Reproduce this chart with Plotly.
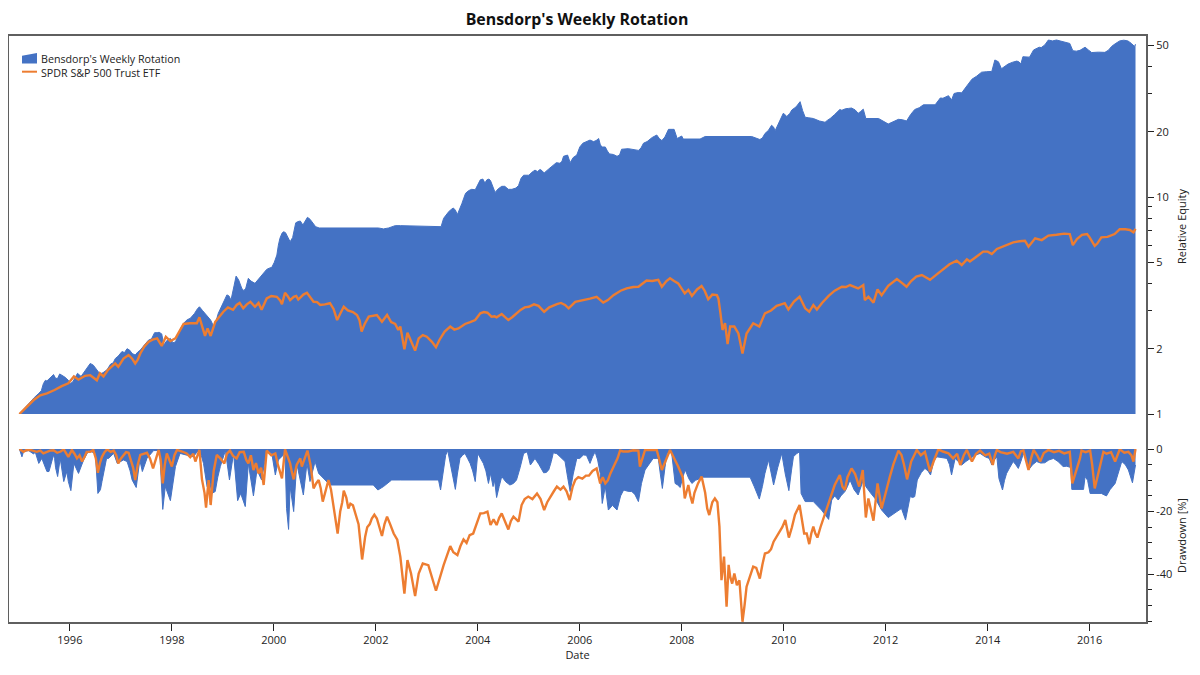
import pandas as pd
from plotly.subplots import make_subplots
import plotly.graph_objects as go

# Values, dates given as decimal years
strategy_years = [
    1995.01, 1995.22, 1995.39, 1995.48, 1995.55, 1995.68, 1995.76, 1995.84, 1995.97, 1996.06, 1996.15, 1996.22,
    1996.40, 1996.53, 1996.59, 1996.73, 1996.89, 1997.02, 1997.12, 1997.22, 1997.28, 1997.38, 1997.54, 1997.71,
    1997.80, 1997.84, 1997.97, 1998.07, 1998.23, 1998.36, 1998.54, 1998.65, 1998.76, 1998.82, 1998.91, 1999.08,
    1999.16, 1999.26, 1999.37, 1999.45, 1999.50, 1999.63, 1999.72, 1999.86, 1999.96, 2000.06, 2000.12, 2000.19,
    2000.27, 2000.32, 2000.37, 2000.43, 2000.52, 2000.57, 2000.66, 2000.76, 2000.89, 2002.05, 2002.15, 2002.25,
    2002.38, 2002.48, 2003.28, 2003.33, 2003.42, 2003.52, 2003.60, 2003.69, 2003.76, 2003.88, 2003.95, 2004.05,
    2004.18, 2004.25, 2004.34, 2004.47, 2004.60, 2004.67, 2004.80, 2004.90, 2005.00, 2005.12, 2005.22, 2005.30,
    2005.48, 2005.61, 2005.68, 2005.76, 2005.81, 2005.94, 2006.06, 2006.20, 2006.37, 2006.43, 2006.50, 2006.58,
    2006.73, 2006.82, 2007.15, 2007.25, 2007.51, 2007.61, 2007.74, 2007.85, 2007.91, 2008.00, 2008.03, 2008.36,
    2008.46, 2009.37, 2009.53, 2009.63, 2009.76, 2009.83, 2009.99, 2010.06, 2010.16, 2010.31, 2010.32, 2010.42,
    2010.58, 2010.81, 2010.91, 2011.10, 2011.14, 2011.27, 2011.40, 2011.46, 2011.56, 2011.61, 2011.86, 2012.05,
    2012.25, 2012.41, 2012.57, 2012.74, 2012.97, 2013.07, 2013.23, 2013.29, 2013.34, 2013.49, 2013.69, 2013.88,
    2014.08, 2014.14, 2014.21, 2014.27, 2014.40, 2014.57, 2014.65, 2014.69, 2014.82, 2014.90, 2015.12, 2015.19,
    2015.35, 2015.61, 2015.67, 2015.81, 2015.91, 2016.04, 2016.30, 2016.43, 2016.59, 2016.75, 2016.88, 2016.90,
]
strategy_equity = [
    1.0, 1.14, 1.245, 1.38, 1.42, 1.52, 1.46, 1.51, 1.43, 1.41, 1.54, 1.49,
    1.71, 1.60, 1.53, 1.60, 1.80, 1.94, 2.0, 1.90, 1.87, 1.97, 2.19, 2.37,
    2.34, 2.08, 2.23, 2.15, 2.62, 2.76, 3.12, 2.91, 2.71, 2.53, 2.91, 3.54,
    3.35, 4.32, 3.80, 3.80, 4.22, 4.00, 4.22, 4.64, 4.74, 5.40, 6.45, 6.92,
    6.57, 6.22, 6.51, 7.6, 7.75, 7.43, 8.06, 7.6, 7.2, 7.2, 7.13, 7.2,
    7.38, 7.38, 7.3, 7.98, 8.5, 8.9, 8.3, 9.35, 10.4, 10.85, 10.8, 12.0,
    12.0, 11.9, 10.5, 11.2, 10.85, 10.85, 11.3, 12.6, 12.6, 13.3, 13.4, 12.9,
    14.0, 14.3, 15.4, 15.6, 14.4, 15.6, 17.7, 18.3, 18.6, 17.0, 17.0, 15.8,
    15.4, 16.6, 16.4, 17.7, 19.3, 18.2, 20.5, 20.5, 18.6, 19.1, 18.5, 18.5,
    19.0, 19.0, 18.4, 19.6, 21.4, 20.2, 24.3, 23.5, 25.2, 27.4, 27.5, 23.3,
    23.0, 22.1, 23.0, 25.3, 25.1, 25.6, 25.2, 24.3, 25.4, 23.0, 23.0, 21.7,
    22.8, 22.4, 25.3, 26.6, 26.6, 28.6, 29.3, 28.0, 30.0, 30.2, 34.9, 37.6,
    37.9, 42.8, 42.0, 39.0, 41.0, 42.3, 41.0, 44.3, 44.1, 47.6, 50.2, 52.9,
    52.9, 51.0, 47.2, 47.4, 49.0, 46.3, 46.4, 49.4, 52.4, 52.4, 49.4, 50.6,
]

# second pass of readings between the turning points above
strategy_extra_years = [
    1995.12, 1995.30, 1995.44, 1995.52, 1995.60, 1995.72, 1995.80, 1995.90, 1996.01, 1996.10, 1996.30, 1996.36,
    1996.46, 1996.65, 1996.80, 1996.85, 1996.95, 1997.07, 1997.17, 1997.33, 1997.46, 1997.60, 1997.66, 1997.75,
    1997.90, 1998.02, 1998.12, 1998.18, 1998.30, 1998.44, 1998.50, 1998.60, 1998.70, 1998.87, 1999.00, 1999.12,
    1999.22, 1999.31, 1999.41, 1999.55, 1999.67, 1999.78, 1999.91, 2000.01, 2000.09, 2000.16, 2000.23, 2000.47,
    2000.61, 2000.71, 2000.82, 2003.46, 2003.56, 2003.65, 2003.72, 2003.82, 2004.00, 2004.10, 2004.14, 2004.22,
    2004.30, 2004.40, 2004.53, 2004.75, 2004.85, 2005.06, 2005.17, 2005.26, 2005.38, 2005.54, 2005.65, 2005.72,
    2005.87, 2006.00, 2006.13, 2006.27, 2006.32, 2006.40, 2006.54, 2006.66, 2006.78, 2006.95, 2007.05, 2007.20,
    2007.32, 2007.42, 2007.56, 2007.67, 2009.58, 2009.70, 2009.80, 2009.90, 2010.02, 2010.12, 2010.24, 2010.37,
    2010.48, 2010.70, 2010.86, 2011.00, 2011.21, 2011.33, 2011.51, 2012.15, 2012.33, 2012.49, 2012.66, 2013.12,
    2013.18, 2013.42, 2013.59, 2013.78, 2013.98, 2014.33, 2014.49, 2014.61, 2014.76, 2015.01, 2015.05, 2015.27,
    2015.48, 2015.74, 2015.98, 2016.17, 2016.37, 2016.50, 2016.67, 2016.82,
]
strategy_extra_equity = [
    1.07, 1.19, 1.28, 1.43, 1.46, 1.46, 1.53, 1.48, 1.38, 1.47, 1.58, 1.66,
    1.68, 1.55, 1.70, 1.72, 1.85, 1.92, 1.97, 1.93, 2.08, 2.22, 2.37, 2.38,
    2.18, 2.13, 2.3, 2.5, 2.72, 2.9, 3.05, 3.0, 2.8, 2.7, 3.2, 3.5,
    3.9, 4.15, 3.7, 4.1, 4.1, 4.4, 4.7, 5.0, 6.0, 6.8, 6.85, 7.7,
    7.7, 7.9, 7.3, 8.7, 8.7, 8.8, 9.8, 10.7, 11.4, 12.1, 11.6, 12.1,
    11.0, 10.9, 11.2, 11.0, 12.2, 13.0, 13.1, 13.2, 13.4, 14.4, 14.6, 15.5,
    15.2, 17.0, 18.0, 18.0, 18.2, 17.5, 16.3, 15.7, 15.6, 16.7, 16.5, 16.8,
    18.0, 18.8, 18.6, 18.9, 18.7, 20.3, 21.0, 22.0, 24.0, 24.3, 26.0, 25.0,
    23.2, 22.4, 22.6, 24.0, 25.5, 25.7, 24.8, 22.2, 22.7, 24.0, 25.8, 28.5,
    29.0, 30.3, 32.5, 36.0, 37.8, 40.0, 41.8, 42.0, 44.0, 49.0, 48.8, 52.4,
    52.0, 47.0, 47.5, 46.5, 47.5, 50.8, 52.8, 51.0,
]

spy_years = [
    1995.01, 1995.29, 1995.55, 1995.84, 1995.97, 1996.08, 1996.17, 1996.40, 1996.53, 1996.59, 1996.66, 1996.89,
    1996.95, 1997.15, 1997.28, 1997.38, 1997.54, 1997.71, 1997.80, 1997.88, 1997.97, 1998.07, 1998.23, 1998.49,
    1998.54, 1998.65, 1998.70, 1998.76, 1998.85, 1999.01, 1999.27, 1999.40, 1999.54, 1999.63, 1999.76, 1999.86,
    2000.06, 2000.16, 2000.22, 2000.32, 2000.39, 2000.48, 2000.65, 2000.78, 2000.91, 2001.10, 2001.24, 2001.37,
    2001.63, 2001.72, 2001.86, 2002.02, 2002.12, 2002.22, 2002.44, 2002.48, 2002.56, 2002.62, 2002.77, 2002.84,
    2002.92, 2003.00, 2003.18, 2003.46, 2003.62, 2003.95, 2004.05, 2004.19, 2004.27, 2004.37, 2004.47, 2004.60,
    2004.76, 2004.84, 2005.00, 2005.19, 2005.30, 2005.55, 2005.71, 2005.78, 2005.91, 2006.33, 2006.46, 2006.66,
    2006.92, 2007.15, 2007.31, 2007.54, 2007.61, 2007.77, 2007.93, 2008.06, 2008.13, 2008.20, 2008.39, 2008.52,
    2008.69, 2008.76, 2008.80, 2008.85, 2008.90, 2008.95, 2009.03, 2009.11, 2009.19, 2009.27, 2009.40, 2009.52,
    2009.63, 2009.86, 2010.02, 2010.09, 2010.31, 2010.42, 2010.50, 2010.58, 2010.65, 2010.88, 2011.14, 2011.30,
    2011.46, 2011.56, 2011.59, 2011.66, 2011.76, 2011.84, 2011.92, 2012.22, 2012.41, 2012.71, 2012.87, 2013.16,
    2013.39, 2013.49, 2013.59, 2013.65, 2013.91, 2014.08, 2014.18, 2014.50, 2014.73, 2014.80, 2014.93, 2015.06,
    2015.19, 2015.61, 2015.67, 2015.85, 2016.00, 2016.10, 2016.23, 2016.49, 2016.59, 2016.79, 2016.86, 2016.90,
]
spy_equity = [
    1.0, 1.16, 1.245, 1.345, 1.385, 1.49, 1.44, 1.51, 1.43, 1.54, 1.49, 1.71,
    1.65, 1.87, 1.71, 1.90, 2.15, 2.23, 2.06, 2.27, 2.17, 2.23, 2.60, 2.62,
    2.79, 2.29, 2.48, 2.29, 2.66, 2.96, 3.18, 3.07, 3.29, 3.12, 3.02, 3.41,
    3.47, 3.21, 3.62, 3.35, 3.47, 3.37, 3.62, 3.29, 3.18, 3.24, 2.71, 3.12,
    2.86, 2.40, 2.81, 2.86, 2.66, 2.86, 2.44, 2.53, 1.99, 2.37, 1.96, 2.23,
    2.31, 2.27, 2.03, 2.53, 2.48, 2.71, 2.91, 2.93, 2.81, 2.79, 2.89, 2.71,
    2.91, 3.02, 3.12, 3.15, 2.96, 3.21, 3.18, 3.07, 3.29, 3.47, 3.26, 3.53,
    3.79, 3.86, 4.12, 4.15, 3.86, 4.22, 4.0, 3.6, 3.73, 3.5, 3.89, 3.38,
    3.53, 2.91, 2.44, 2.62, 2.10, 2.53, 2.53, 2.35, 1.90, 2.35, 2.62, 2.53,
    2.91, 3.15, 3.24, 3.03, 3.47, 3.07, 2.96, 3.18, 3.03, 3.5, 3.86, 3.93,
    3.79, 3.93, 3.35, 3.47, 3.26, 3.75, 3.53, 4.19, 3.86, 4.37, 4.15, 4.69,
    5.09, 4.86, 5.16, 5.04, 5.6, 5.46, 5.76, 6.18, 6.29, 5.9, 6.45, 6.33,
    6.64, 6.75, 6.0, 6.69, 6.52, 5.95, 6.52, 6.75, 7.1, 7.05, 6.87, 7.13,
]

spy_extra_years = [
    1995.42, 1995.70, 1996.30, 1996.75, 1997.05, 1997.22, 1997.33, 1997.46, 1997.62, 1998.15, 1998.35, 1998.60,
    1998.95, 1999.10, 1999.20, 1999.33, 1999.47, 1999.70, 1999.95, 2000.12, 2000.27, 2000.44, 2000.58, 2000.72,
    2000.85, 2001.00, 2001.17, 2001.30, 2001.45, 2001.55, 2001.68, 2001.78, 2001.95, 2002.30, 2002.38, 2003.10,
    2003.25, 2003.35, 2003.54, 2003.75, 2003.85, 2004.12, 2004.33, 2004.55, 2004.68, 2004.92, 2005.10, 2005.40,
    2005.63, 2006.10, 2006.20, 2006.55, 2006.80, 2007.05, 2007.42, 2007.70, 2007.85, 2008.30, 2008.45, 2008.60,
    2008.72, 2009.35, 2009.75, 2009.95, 2010.20, 2010.75, 2011.00, 2011.22, 2011.38, 2012.05, 2012.14, 2012.33,
    2012.50, 2012.60, 2013.00, 2013.25, 2013.75, 2014.00, 2014.30, 2014.40, 2014.62, 2015.35, 2015.50, 2015.75,
    2015.95, 2016.15, 2016.35, 2016.70,
]
spy_extra_equity = [
    1.22, 1.29, 1.5, 1.6, 1.8, 1.8, 1.78, 2.05, 2.2, 2.4, 2.62, 2.5,
    2.85, 3.1, 3.02, 3.25, 3.2, 3.25, 3.5, 3.35, 3.5, 3.5, 3.55, 3.45,
    3.28, 3.2, 3.05, 2.9, 3.0, 2.95, 2.7, 2.6, 2.85, 2.65, 2.6, 2.15,
    2.2, 2.4, 2.45, 2.6, 2.65, 2.95, 2.82, 2.78, 2.8, 3.1, 3.2, 3.1,
    3.25, 3.35, 3.4, 3.35, 3.7, 3.85, 4.1, 4.1, 4.1, 3.75, 3.7, 3.55,
    3.4, 2.5, 3.0, 3.2, 3.3, 3.25, 3.7, 3.85, 3.85, 3.9, 4.05, 4.0,
    4.1, 4.3, 4.4, 4.9, 5.25, 5.6, 5.9, 6.05, 6.25, 6.7, 6.78, 6.4,
    6.75, 6.1, 6.55, 7.1,
]

strategy_dd_years = [
    1995.01, 1995.06, 1995.09, 1995.19, 1995.29, 1995.32, 1995.39, 1995.45, 1995.55, 1995.59, 1995.68, 1995.76,
    1995.81, 1995.88, 1995.94, 1995.97, 1996.02, 1996.08, 1996.17, 1996.27, 1996.37, 1996.50, 1996.55, 1996.63,
    1996.76, 1996.86, 1996.93, 1997.05, 1997.22, 1997.30, 1997.37, 1997.42, 1997.51, 1997.64, 1997.76, 1997.82,
    1997.87, 1997.97, 1998.07, 1998.16, 1998.42, 1998.54, 1998.62, 1998.69, 1998.78, 1998.85, 1998.95, 1999.05,
    1999.13, 1999.21, 1999.29, 1999.35, 1999.44, 1999.50, 1999.60, 1999.67, 1999.76, 1999.86, 1999.96, 2000.03,
    2000.09, 2000.22, 2000.25, 2000.29, 2000.32, 2000.39, 2000.45, 2000.58, 2000.65, 2000.71, 2000.81, 2000.88,
    2001.10, 2001.95, 2002.04, 2002.15, 2002.31, 2002.48, 2003.23, 2003.27, 2003.33, 2003.41, 2003.49, 2003.56,
    2003.65, 2003.75, 2003.85, 2003.95, 2004.00, 2004.11, 2004.21, 2004.25, 2004.37, 2004.47, 2004.63, 2004.76,
    2004.90, 2004.97, 2005.03, 2005.12, 2005.29, 2005.39, 2005.48, 2005.61, 2005.71, 2005.81, 2005.94, 2006.07,
    2006.20, 2006.30, 2006.40, 2006.44, 2006.50, 2006.56, 2006.73, 2006.86, 2007.02, 2007.15, 2007.28, 2007.44,
    2007.54, 2007.62, 2007.71, 2007.80, 2007.87, 2007.97, 2008.07, 2008.20, 2008.43, 2009.34, 2009.52, 2009.63,
    2009.70, 2009.80, 2009.96, 2010.10, 2010.19, 2010.31, 2010.34, 2010.42, 2010.58, 2010.74, 2010.88, 2010.94,
    2011.07, 2011.20, 2011.30, 2011.46, 2011.56, 2011.61, 2011.92, 2012.05, 2012.22, 2012.31, 2012.39, 2012.48,
    2012.57, 2012.62, 2012.77, 2012.88, 2013.00, 2013.20, 2013.29, 2013.36, 2013.49, 2013.65, 2013.85, 2014.08,
    2014.18, 2014.22, 2014.29, 2014.37, 2014.50, 2014.60, 2014.70, 2014.80, 2014.96, 2015.12, 2015.29, 2015.48,
    2015.63, 2015.65, 2015.88, 2015.91, 2016.01, 2016.23, 2016.33, 2016.50, 2016.63, 2016.76, 2016.84, 2016.90,
]
strategy_dd = [
    0, -2.5, -0.9, -0.5, -1.6, -0.9, -4.6, -3, -7.2, -7.2, -1.9, -8.8,
    -3, -10.4, -7.2, -10.4, -13.3, -4.6, -7.8, -3.5, -0.5, -1.4, -14.2, -10.4,
    -3, -1.4, -4.6, -3.5, -9.9, -12.3, -3.5, -7.2, -3, -0.5, -0.5, -19.3,
    -12, -16.5, -5.6, -1.4, -2.5, 0, -4.6, -12, -14.2, -13.6, -5.6, -0.5,
    -9.9, -1.4, -16.5, -14.2, -18.4, -4.6, -15, -6.7, -9.9, -0.5, -1.4, -8.3,
    -3.5, -1.4, -19, -25.7, -12, -20, -4.6, -14.7, -4.6, -10.4, -4, -7.8,
    -11.5, -11.5, -13.1, -12, -9.9, -9.9, -9.9, -13.1, -5.6, -0.5, -7.3, -12.9,
    -3, -1.4, -4.6, -10.4, -1.4, -4.6, -11, -7.8, -15.5, -8.8, -11.5, -9.9,
    -1.4, -0.9, -5.1, -3, -7.6, -6.7, -1.2, -2.5, -4, -13.6, -3, -1.9,
    -4.6, -0.9, -7.8, -17.4, -12, -19.5, -19.5, -13.1, -13.6, -16.8, -6.7, -3,
    -3, -12.6, -1.4, -0.9, -11, -12.3, -6.7, -11, -9, -9, -16, -7.8,
    -3.5, -11.5, -1.4, -13.3, -2.5, -0.9, -14.2, -16.8, -16.8, -19.5, -22.5, -16.3,
    -16.3, -13.6, -9.9, -14.7, -9.9, -12, -19.5, -21.9, -20, -19, -22.7, -15.2,
    -15.2, -9.9, -6.2, -8.3, -2.5, -3, -8.3, -3, -5.1, -3, -1.4, -5.1,
    -2.5, -9.4, -13.1, -7.8, -4, -6.2, -1.4, -6.7, -4, -4.4, -3, -5.6,
    -5.9, -12.9, -12.9, -8.8, -14.2, -14.2, -15, -11, -4, -6.7, -10.8, -5.1,
]

strategy_dd_extra_years = [
    1995.70, 1995.72, 1996.60, 1996.68, 1996.72, 1997.12, 1997.18, 1998.30, 1998.58, 1998.74, 1998.90, 1999.09,
    2003.37, 2003.45, 2003.52, 2003.60, 2003.70, 2003.80, 2003.90, 2004.05, 2004.16, 2004.30, 2004.33, 2004.42,
    2004.55, 2004.70, 2004.83, 2005.00, 2005.08, 2005.20, 2005.34, 2005.44, 2005.55, 2005.76, 2005.87, 2006.00,
    2006.13, 2006.25, 2006.35, 2006.64, 2006.80, 2006.94, 2007.08, 2007.21, 2007.36, 2007.50, 2007.58, 2007.67,
    2007.76, 2007.92, 2008.02, 2008.14, 2008.27, 2009.42, 2009.47, 2009.58, 2009.75, 2009.88, 2010.03, 2010.15,
    2010.25, 2011.00, 2011.12, 2011.25, 2011.38, 2011.70, 2011.80, 2012.44, 2012.53, 2012.70, 2012.83, 2012.94,
    2013.10, 2013.25, 2013.42, 2013.57, 2013.75, 2013.95, 2014.03, 2014.13, 2014.33, 2014.43, 2014.55, 2014.65,
    2014.75, 2014.88, 2015.04, 2015.20, 2015.38, 2015.55, 2015.96, 2016.12, 2016.40, 2016.57, 2016.70,
]
strategy_dd_extra = [
    -3, -6, -13, -6, -3, -4, -7, -2, -2.5, -10, -9, -6,
    -2, -4, -10, -8, -2, -3, -7, -3, -7, -12, -10, -12,
    -10.5, -11, -6, -3, -4, -5, -7.5, -4, -1.5, -9, -8, -3,
    -2, -2.5, -3.5, -18, -15, -13.5, -14.5, -11, -5, -3, -8, -6,
    -1, -11.5, -9, -9.5, -10, -12, -14, -12, -7, -6, -8, -7,
    -1.5, -15, -15, -12, -13, -14, -16, -19, -15.5, -7.5, -7, -4,
    -2.8, -5, -4, -4, -2, -2.5, -3, -3.5, -10, -6, -5, -4,
    -3, -5, -4.5, -3.5, -4, -5.5, -10, -14.2, -13, -7, -5,
]

spy_dd_years = [
    1995.01, 1995.09, 1995.22, 1995.35, 1995.48, 1995.61, 1995.75, 1995.88, 1995.97, 1996.04, 1996.14, 1996.24,
    1996.33, 1996.46, 1996.55, 1996.63, 1996.73, 1996.86, 1996.95, 1997.05, 1997.15, 1997.28, 1997.38, 1997.51,
    1997.63, 1997.74, 1997.82, 1997.90, 1998.00, 1998.10, 1998.29, 1998.46, 1998.54, 1998.59, 1998.67, 1998.72,
    1998.76, 1998.88, 1999.03, 1999.14, 1999.27, 1999.41, 1999.50, 1999.60, 1999.70, 1999.80, 1999.86, 2000.03,
    2000.16, 2000.22, 2000.32, 2000.39, 2000.52, 2000.55, 2000.66, 2000.78, 2000.88, 2000.96, 2001.07, 2001.17,
    2001.25, 2001.37, 2001.46, 2001.59, 2001.73, 2001.79, 2001.92, 2002.02, 2002.12, 2002.22, 2002.35, 2002.48,
    2002.56, 2002.62, 2002.69, 2002.77, 2002.84, 2002.92, 2003.03, 2003.18, 2003.33, 2003.46, 2003.60, 2003.72,
    2003.91, 2004.05, 2004.19, 2004.25, 2004.37, 2004.47, 2004.60, 2004.70, 2004.80, 2004.86, 2004.99, 2005.16,
    2005.30, 2005.42, 2005.55, 2005.68, 2005.80, 2005.91, 2006.33, 2006.40, 2006.50, 2006.60, 2006.79, 2007.15,
    2007.18, 2007.28, 2007.51, 2007.61, 2007.77, 2007.93, 2008.06, 2008.13, 2008.21, 2008.39, 2008.54, 2008.65,
    2008.74, 2008.78, 2008.83, 2008.88, 2008.95, 2009.03, 2009.08, 2009.19, 2009.27, 2009.40, 2009.53, 2009.63,
    2009.80, 2010.03, 2010.10, 2010.31, 2010.40, 2010.50, 2010.58, 2010.66, 2010.84, 2011.10, 2011.20, 2011.33,
    2011.48, 2011.55, 2011.61, 2011.66, 2011.76, 2011.84, 2011.92, 2012.25, 2012.31, 2012.42, 2012.61, 2012.77,
    2012.87, 2013.03, 2013.23, 2013.46, 2013.59, 2013.69, 2013.85, 2014.10, 2014.18, 2014.50, 2014.60, 2014.70,
    2014.80, 2014.90, 2015.03, 2015.19, 2015.61, 2015.66, 2015.78, 2015.84, 2016.01, 2016.10, 2016.27, 2016.50,
    2016.59, 2016.76, 2016.86, 2016.90,
]
spy_dd = [
    0, -0.9, -0.3, -0.9, -1.4, -0.5, -1.2, -0.1, -2.5, -0.3, -3, -4,
    -0.9, -0.3, -7.6, -2.5, -0.1, -0.5, -4.6, -1.9, -1.2, -9.9, -1.9, -1.2,
    -6.2, -0.3, -11, -1.4, -5.6, -0.3, -1.4, -4, -0.3, -9.7, -18.7, -9.9,
    -17.9, -1.9, -4.6, -0.5, -3, -0.9, -4.6, -6.7, -7.8, -11.5, -0.5, -1.4,
    -9.4, -0.1, -4.6, -9.7, -3, -5.6, -0.5, -12.6, -9.9, -16.8, -9.9, -18.4,
    -27, -13.3, -19, -20, -35.3, -28, -22.2, -22.2, -27.8, -21.6, -27, -34.4,
    -46.2, -35.5, -39.8, -47, -39.8, -36.6, -37.1, -45.3, -37.1, -31, -33.9, -28.9,
    -27, -20.6, -20, -24.3, -24.3, -20.6, -25.7, -21.6, -23.2, -17.9, -15.2, -14.2,
    -19.5, -15.2, -12, -12, -16.3, -9.9, -6.2, -11, -11, -7.8, -0.5, -0.5,
    -5.6, -0.3, -0.3, -6.7, -0.3, -5.6, -15.8, -11.5, -17.4, -8.8, -21.1, -15.8,
    -24.8, -41.9, -34.4, -50.4, -40.8, -39.8, -43.5, -55.2, -44, -37.6, -41.4, -33.4,
    -29.6, -22.7, -28.3, -17.9, -27, -30.4, -24.8, -28.3, -19, -8.3, -13.1, -6.2,
    -12, -6.7, -21.9, -15.8, -22.9, -11, -19, -0.5, -1.9, -9.7, -0.3, -0.9,
    -7.2, -0.1, -1.4, -5.1, -0.3, -4, -0.5, -5.1, -0.3, -0.9, -3, -0.5,
    -6.7, -0.3, -4, -0.3, -0.9, -11, -4.6, -0.5, -0.5, -12.6, -0.9, -4,
    -0.1, -0.9, -4, 0,
]

spy_dd_extra_years = [
    1995.15, 1995.42, 1995.55, 1995.68, 1995.82, 1996.09, 1996.19, 1996.29, 1996.40, 1996.51, 1996.59, 1996.68,
    1996.80, 1996.91, 1997.00, 1997.10, 1997.20, 1997.24, 1997.33, 1997.45, 1997.57, 1997.69, 1997.78, 1997.86,
    1997.95, 1998.05, 1998.20, 1998.36, 1998.42, 1998.50, 1998.64, 1998.82, 1998.95, 1999.08, 1999.20, 1999.33,
    1999.46, 1999.55, 1999.65, 1999.75, 1999.83, 1999.95, 2000.08, 2000.12, 2000.27, 2000.35, 2000.45, 2000.61,
    2000.72, 2000.83, 2000.92, 2001.02, 2001.12, 2001.21, 2001.30, 2001.34, 2001.42, 2001.50, 2001.55, 2001.66,
    2001.76, 2001.83, 2001.88, 2001.97, 2002.07, 2002.17, 2002.28, 2002.42, 2003.52, 2003.66, 2003.78, 2003.84,
    2003.98, 2004.12, 2004.31, 2004.42, 2004.53, 2004.65, 2004.92, 2005.07, 2005.23, 2005.36, 2005.49, 2005.62,
    2005.74, 2005.86, 2005.97, 2006.05, 2006.12, 2006.18, 2006.25, 2006.45, 2006.55, 2006.68, 2006.74, 2006.85,
    2006.95, 2007.05, 2008.02, 2008.09, 2008.17, 2008.25, 2008.32, 2008.46, 2008.50, 2008.60, 2008.70, 2008.92,
    2008.99, 2009.13, 2009.23, 2009.33, 2009.46, 2009.58, 2009.70, 2009.75, 2009.90, 2009.97, 2010.16, 2010.22,
    2010.45, 2010.54, 2010.62, 2010.72, 2010.78, 2010.92, 2011.00, 2011.15, 2011.25, 2011.40, 2012.00, 2012.08,
    2012.15, 2012.36, 2012.50, 2012.69, 2012.82, 2012.94, 2013.12, 2013.32, 2013.40, 2013.53, 2013.64, 2013.77,
    2013.95, 2014.03, 2014.14, 2014.25, 2014.38, 2014.65, 2014.85, 2014.97, 2015.10, 2015.30, 2015.40, 2015.50,
    2015.72, 2015.81, 2015.92, 2016.05, 2016.14, 2016.19, 2016.33, 2016.42, 2016.55, 2016.68, 2016.82,
]
spy_dd_extra = [
    -0.3, -0.5, -1.0, -0.4, -0.8, -1.5, -2, -2.5, -0.9, -3, -4.5, -1,
    -0.9, -2, -3, -1, -3.5, -6, -5, -1.5, -3, -3, -3.5, -5,
    -3.5, -2, -0.8, -2.6, -1.5, -2, -14, -7, -3, -1.5, -2.2, -1,
    -3.5, -2, -4.5, -6, -6, -2, -5, -7, -2.5, -7, -5, -2.5,
    -5, -11, -12.5, -13, -13, -22, -20, -17, -15.5, -17.5, -18, -24,
    -31, -25, -24, -21, -25, -24, -24, -29, -33, -31, -30, -27.5,
    -24, -20.5, -22.5, -22, -23, -23, -16, -16, -16, -17, -13.5, -13,
    -13.5, -12, -9, -9.5, -8.5, -8.5, -7, -9, -10, -5, -3, -0.8,
    -0.8, -0.4, -9, -14, -15, -14, -11, -14, -19, -17, -17, -37,
    -43, -42, -50, -41, -38, -37, -33, -32, -27, -25, -25, -21,
    -27, -27, -27, -25, -22, -15, -11.5, -12, -9, -8, -13.5, -9,
    -5, -5, -4, -2, -4, -4, -0.8, -3, -1.5, -2, -2, -1.5,
    -2, -1.5, -2, -1, -1.5, -0.7, -3, -2, -1.3, -1, -0.6, -1.4,
    -8, -3, -1, -5, -10, -6, -1.5, -1, -1.5, -1.2, -2,
]

equity_ticks = [1, 2, 5, 10, 20, 50]
equity_minor_ticks = [3, 4, 6, 7, 8, 9, 30, 40]
dd_ticks = [0, -20, -40]
dd_minor_ticks = [-5, -10, -15, -25, -30, -35, -45, -50, -55]

BLUE = "#4472C4"
ORANGE = "#ED7D31"
FRAME = "#5F5F5F"
INK = "#222222"
FONT = "Open Sans"


def to_dates(years):
    return [
        pd.Timestamp(year=int(y), month=1, day=1) + pd.Timedelta(days=365.25 * (y - int(y)))
        for y in years
    ]


def merged(years, values, extra_years, extra_values):
    assert len(years) == len(values) and len(extra_years) == len(extra_values)
    s = pd.Series(list(values) + list(extra_values), index=list(years) + list(extra_years))
    s = s[~s.index.duplicated()].sort_index()
    return to_dates(s.index), s.values


fig = make_subplots(rows=2, cols=1, shared_xaxes=True)

# Equity panel
x, y = merged(strategy_years, strategy_equity, strategy_extra_years, strategy_extra_equity)
fig.add_trace(
    go.Scatter(
        x=x,
        y=y,
        name="Bensdorp's Weekly Rotation",
        mode="lines",
        fill="tozeroy",
        fillcolor=BLUE,
        line=dict(color=BLUE, width=1),
        showlegend=False,
    ),
    row=1,
    col=1,
)
x, y = merged(spy_years, spy_equity, spy_extra_years, spy_extra_equity)
fig.add_trace(
    go.Scatter(
        x=x,
        y=y,
        name="SPDR S&P 500 Trust ETF",
        mode="lines",
        line=dict(color=ORANGE, width=2.4),
        showlegend=False,
    ),
    row=1,
    col=1,
)

# Drawdown panel
x, y = merged(strategy_dd_years, strategy_dd, strategy_dd_extra_years, strategy_dd_extra)
fig.add_trace(
    go.Scatter(
        x=x,
        y=y,
        name="Bensdorp's Weekly Rotation",
        mode="lines",
        fill="tozeroy",
        fillcolor=BLUE,
        line=dict(color=BLUE, width=1),
        showlegend=False,
    ),
    row=2,
    col=1,
)
x, y = merged(spy_dd_years, spy_dd, spy_dd_extra_years, spy_dd_extra)
fig.add_trace(
    go.Scatter(
        x=x,
        y=y,
        name="SPDR S&P 500 Trust ETF",
        mode="lines",
        line=dict(color=ORANGE, width=2.4),
        showlegend=False,
    ),
    row=2,
    col=1,
)

tick_style = dict(ticks="outside", ticklen=6, tickwidth=1, tickcolor=INK, showgrid=False, zeroline=False)

fig.update_xaxes(range=["1994-10-15", "2017-02-15"], showgrid=False, zeroline=False, showticklabels=False)
fig.update_xaxes(
    row=2,
    col=1,
    showticklabels=True,
    tick0="1996-01-01",
    dtick="M24",
    tickformat="%Y",
    ticks="outside",
    ticklen=7,
    tickcolor=INK,
    title=dict(text="Date", standoff=4, font=dict(size=11)),
)

fig.update_yaxes(
    row=1,
    col=1,
    type="log",
    side="right",
    range=[0, 1.7465],
    domain=[0.3554, 1],
    tickmode="array",
    tickvals=equity_ticks,
    ticktext=[str(v) for v in equity_ticks],
    minor=dict(tickmode="array", tickvals=equity_minor_ticks, ticks="outside", ticklen=4, tickcolor=INK),
    **tick_style,
)
fig.update_yaxes(
    row=2,
    col=1,
    side="right",
    range=[-55.6, 0],
    domain=[0, 0.2959],
    tickmode="array",
    tickvals=dd_ticks,
    ticktext=[str(v) for v in dd_ticks],
    minor=dict(tickmode="array", tickvals=dd_minor_ticks, ticks="outside", ticklen=4, tickcolor=INK),
    **tick_style,
)

# the page adds an 8px body margin, so the figure is 16px smaller than the window
fig.update_layout(
    width=1184,
    height=659,
    margin=dict(l=0, r=45, t=27, b=44),
    paper_bgcolor="white",
    plot_bgcolor="white",
    font=dict(family=FONT, size=11, color=INK),
    showlegend=False,
    title=dict(
        text="<b>Bensdorp's Weekly Rotation</b>",
        x=0.4806,
        xanchor="center",
        y=0.9833,
        yanchor="middle",
        font=dict(size=15.9, color="#111111"),
    ),
    annotations=[
        dict(text="Bensdorp's Weekly Rotation", x=0.0276, y=0.9592, xref="paper", yref="paper",
             xanchor="left", yanchor="middle", showarrow=False, font=dict(size=10.7)),
        dict(text="SPDR S&P 500 Trust ETF", x=0.0276, y=0.9360, xref="paper", yref="paper",
             xanchor="left", yanchor="middle", showarrow=False, font=dict(size=10.7)),
        dict(text="Relative Equity", x=1.0307, y=0.6752, xref="paper", yref="paper", textangle=-90,
             xanchor="center", yanchor="middle", showarrow=False, font=dict(size=11)),
        dict(text="Drawdown [%]", x=1.0307, y=0.1497, xref="paper", yref="paper", textangle=-90,
             xanchor="center", yanchor="middle", showarrow=False, font=dict(size=11)),
    ],
    shapes=[
        dict(type="rect", xref="paper", yref="paper", x0=0, x1=1, y0=0, y1=1,
             line=dict(color=FRAME, width=2), layer="above"),
        # legend keys
        dict(type="path", xref="paper", yref="paper",
             path="M 0.0123 0.9515 L 0.0123 0.9648 L 0.02546 0.9694 L 0.02546 0.9515 Z",
             fillcolor=BLUE, line=dict(color=BLUE, width=0)),
        dict(type="line", xref="paper", yref="paper", x0=0.0123, x1=0.02546, y0=0.9376, y1=0.9376,
             line=dict(color=ORANGE, width=2)),
    ],
)

fig.write_html("out.html")
